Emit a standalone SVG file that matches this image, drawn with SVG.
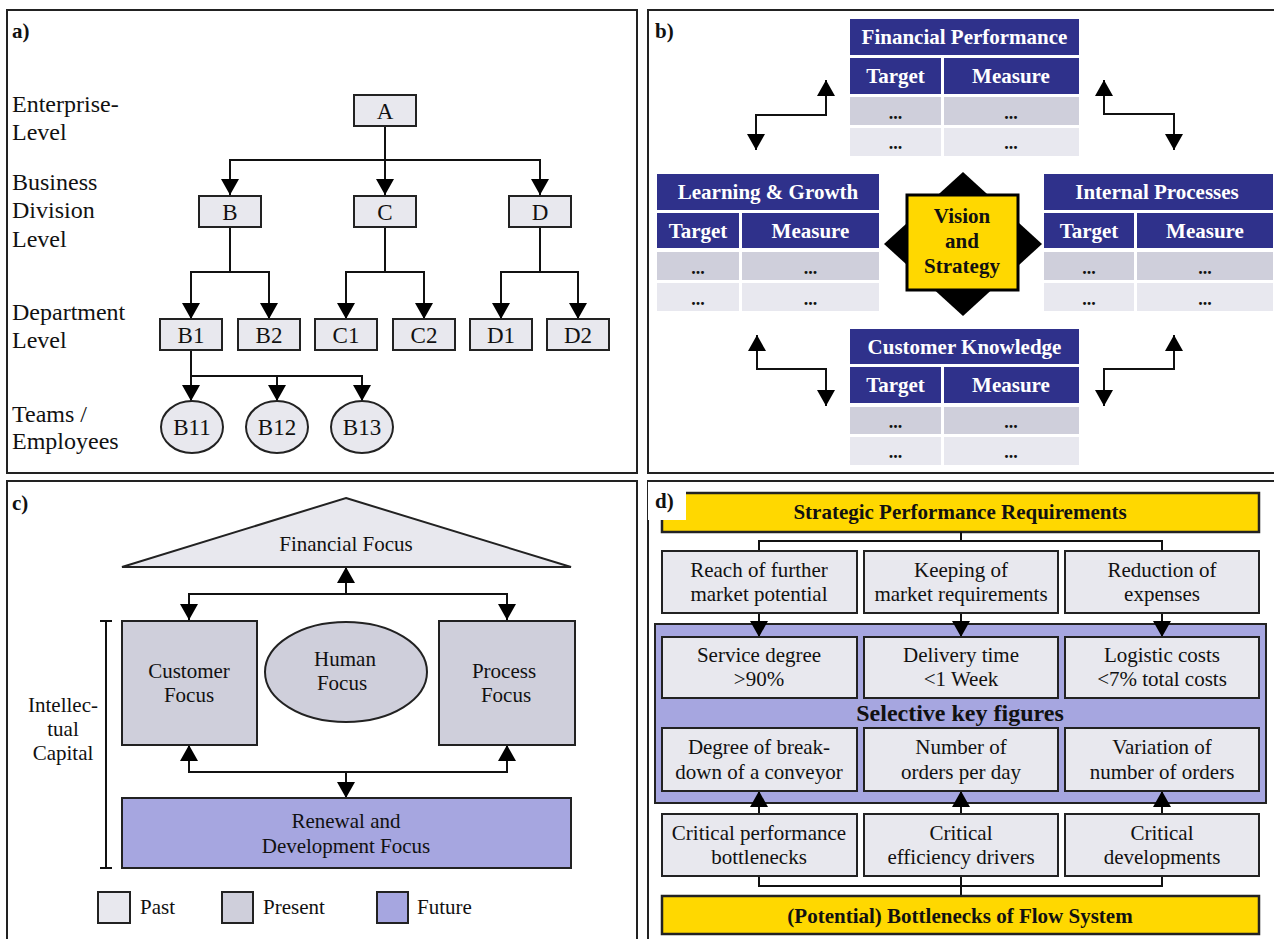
<svg xmlns="http://www.w3.org/2000/svg" width="1274" height="939" viewBox="0 0 1274 939" font-family="'Liberation Serif', 'DejaVu Serif', serif">
<style>
text{font-family:'Liberation Serif','DejaVu Serif',serif;fill:#111}
.lbl{font-size:24px}
.nd{font-size:23px;text-anchor:middle}
.pl{font-size:21px;font-weight:bold}
.frame{fill:none;stroke:#222;stroke-width:2}
.box{fill:#e8e8ee;stroke:#222;stroke-width:2}
.cn{fill:none;stroke:#111;stroke-width:2}
.hd{fill:#2f318b}
.hdt{font-size:21px;font-weight:bold;fill:#fff;text-anchor:middle}
.r1{fill:#cfcfdb}
.r2{fill:#e8e8ef}
.dots{font-size:18px;font-weight:bold;text-anchor:middle}
.t21{font-size:21px;text-anchor:middle}
.b21{font-size:21px;font-weight:bold;text-anchor:middle}
.pres{fill:#cfcfdb;stroke:#222;stroke-width:2}
.fut{fill:#a6a6e0;stroke:#222;stroke-width:2}
.yel{fill:#ffd800;stroke:#222;stroke-width:2.5}
</style>
<defs>
<marker id="ah" viewBox="0 0 16 18" refX="16" refY="9" markerWidth="16" markerHeight="18" markerUnits="userSpaceOnUse" orient="auto-start-reverse">
<path d="M0,0 L16,9 L0,18 z" fill="#000"/>
</marker>
</defs>
<rect width="1274" height="939" fill="#fff"/>

<!-- Panel frames -->
<rect class="frame" x="7" y="10" width="630" height="463"/>
<rect class="frame" x="648" y="10" width="700" height="463"/>
<rect class="frame" x="7" y="481" width="630" height="480"/>
<rect class="frame" x="648" y="481" width="700" height="480"/>

<!-- ===== Panel a ===== -->
<text class="pl" x="12" y="38">a)</text>
<g id="a-labels">
<text class="lbl" x="12" y="112">Enterprise-</text>
<text class="lbl" x="12" y="140">Level</text>
<text class="lbl" x="12" y="190">Business</text>
<text class="lbl" x="12" y="218">Division</text>
<text class="lbl" x="12" y="247">Level</text>
<text class="lbl" x="12" y="320">Department</text>
<text class="lbl" x="12" y="348">Level</text>
<text class="lbl" x="12" y="422">Teams /</text>
<text class="lbl" x="12" y="449">Employees</text>
</g>
<g id="a-connectors">
<path class="cn" d="M385,126 L385,195" marker-end="url(#ah)"/>
<path class="cn" d="M230,195 L230,160 L540,160 L540,195" marker-start="url(#ah)" marker-end="url(#ah)"/>
<path class="cn" d="M230,227 L230,272"/>
<path class="cn" d="M191,319 L191,272 L269,272 L269,319" marker-start="url(#ah)" marker-end="url(#ah)"/>
<path class="cn" d="M385,227 L385,272"/>
<path class="cn" d="M346,319 L346,272 L424,272 L424,319" marker-start="url(#ah)" marker-end="url(#ah)"/>
<path class="cn" d="M540,227 L540,272"/>
<path class="cn" d="M501,319 L501,272 L578,272 L578,319" marker-start="url(#ah)" marker-end="url(#ah)"/>
<path class="cn" d="M191,350 L191,401" marker-end="url(#ah)"/>
<path class="cn" d="M191,376 L362,376 L362,401" marker-end="url(#ah)"/>
<path class="cn" d="M277,376 L277,401" marker-end="url(#ah)"/>
</g>
<g id="nA"><rect class="box" x="354" y="95" width="62" height="31"/><text class="nd" x="385" y="119">A</text></g>
<g id="nB"><rect class="box" x="199" y="196" width="62" height="31"/><text class="nd" x="230" y="220">B</text></g>
<g id="nC"><rect class="box" x="354" y="196" width="62" height="31"/><text class="nd" x="385" y="220">C</text></g>
<g id="nD"><rect class="box" x="509" y="196" width="62" height="31"/><text class="nd" x="540" y="220">D</text></g>
<g id="nB1"><rect class="box" x="160" y="319" width="62" height="31"/><text class="nd" x="191" y="343">B1</text></g>
<g id="nB2"><rect class="box" x="238" y="319" width="62" height="31"/><text class="nd" x="269" y="343">B2</text></g>
<g id="nC1"><rect class="box" x="315" y="319" width="62" height="31"/><text class="nd" x="346" y="343">C1</text></g>
<g id="nC2"><rect class="box" x="393" y="319" width="62" height="31"/><text class="nd" x="424" y="343">C2</text></g>
<g id="nD1"><rect class="box" x="470" y="319" width="62" height="31"/><text class="nd" x="501" y="343">D1</text></g>
<g id="nD2"><rect class="box" x="547" y="319" width="62" height="31"/><text class="nd" x="578" y="343">D2</text></g>
<g id="nB11"><ellipse class="box" cx="192" cy="427" rx="31" ry="26"/><text class="nd" x="192" y="435">B11</text></g>
<g id="nB12"><ellipse class="box" cx="277" cy="427" rx="31" ry="26"/><text class="nd" x="277" y="435">B12</text></g>
<g id="nB13"><ellipse class="box" cx="362" cy="427" rx="31" ry="26"/><text class="nd" x="362" y="435">B13</text></g>

<!-- ===== Panel b ===== -->
<text class="pl" x="655" y="38">b)</text>
<g id="b-connectors">
<path class="cn" d="M826,80 L826,115 L756,115 L756,150" marker-start="url(#ah)" marker-end="url(#ah)"/>
<path class="cn" d="M1104,80 L1104,114 L1174,114 L1174,150" marker-start="url(#ah)" marker-end="url(#ah)"/>
<path class="cn" d="M757,335 L757,369 L826,369 L826,406" marker-start="url(#ah)" marker-end="url(#ah)"/>
<path class="cn" d="M1174,335 L1174,369 L1104,369 L1104,406" marker-start="url(#ah)" marker-end="url(#ah)"/>
</g>
<g id="b-financial">
<rect class="hd" x="850" y="19" width="229" height="36"/>
<text class="hdt" x="964.5" y="44">Financial Performance</text>
<rect class="hd" x="850" y="58" width="91" height="36"/>
<rect class="hd" x="944" y="58" width="135" height="36"/>
<text class="hdt" x="895.5" y="83">Target</text>
<text class="hdt" x="1011" y="83">Measure</text>
<rect class="r1" x="850" y="97" width="91" height="28"/><rect class="r1" x="944" y="97" width="135" height="28"/>
<rect class="r2" x="850" y="128" width="91" height="28"/><rect class="r2" x="944" y="128" width="135" height="28"/>
<text class="dots" x="895.5" y="119">...</text><text class="dots" x="1011" y="119">...</text>
<text class="dots" x="895.5" y="149">...</text><text class="dots" x="1011" y="149">...</text>
</g>
<g id="b-learning">
<rect class="hd" x="657" y="174" width="222" height="36"/>
<text class="hdt" x="768" y="199">Learning &amp; Growth</text>
<rect class="hd" x="657" y="213" width="82" height="35"/>
<rect class="hd" x="742" y="213" width="137" height="35"/>
<text class="hdt" x="698" y="238">Target</text>
<text class="hdt" x="810.5" y="238">Measure</text>
<rect class="r1" x="657" y="252" width="82" height="28"/><rect class="r1" x="742" y="252" width="137" height="28"/>
<rect class="r2" x="657" y="283" width="82" height="28"/><rect class="r2" x="742" y="283" width="137" height="28"/>
<text class="dots" x="698" y="274">...</text><text class="dots" x="810.5" y="274">...</text>
<text class="dots" x="698" y="305">...</text><text class="dots" x="810.5" y="305">...</text>
</g>
<g id="b-internal">
<rect class="hd" x="1044" y="174" width="229" height="36"/>
<text class="hdt" x="1157" y="199">Internal Processes</text>
<rect class="hd" x="1044" y="213" width="90" height="35"/>
<rect class="hd" x="1137" y="213" width="136" height="35"/>
<text class="hdt" x="1089" y="238">Target</text>
<text class="hdt" x="1205" y="238">Measure</text>
<rect class="r1" x="1044" y="252" width="90" height="28"/><rect class="r1" x="1137" y="252" width="136" height="28"/>
<rect class="r2" x="1044" y="283" width="90" height="28"/><rect class="r2" x="1137" y="283" width="136" height="28"/>
<text class="dots" x="1089" y="274">...</text><text class="dots" x="1205" y="274">...</text>
<text class="dots" x="1089" y="305">...</text><text class="dots" x="1205" y="305">...</text>
</g>
<g id="b-customer">
<rect class="hd" x="850" y="329" width="229" height="35"/>
<text class="hdt" x="964.5" y="354">Customer Knowledge</text>
<rect class="hd" x="850" y="367" width="91" height="36"/>
<rect class="hd" x="944" y="367" width="135" height="36"/>
<text class="hdt" x="895.5" y="392">Target</text>
<text class="hdt" x="1011" y="392">Measure</text>
<rect class="r1" x="850" y="407" width="91" height="27"/><rect class="r1" x="944" y="407" width="135" height="27"/>
<rect class="r2" x="850" y="437" width="91" height="28"/><rect class="r2" x="944" y="437" width="135" height="28"/>
<text class="dots" x="895.5" y="428">...</text><text class="dots" x="1011" y="428">...</text>
<text class="dots" x="895.5" y="458">...</text><text class="dots" x="1011" y="458">...</text>
</g>
<g id="b-vision">
<polygon points="963,172 1042,244 963,316 884,244" fill="#000"/>
<rect x="907" y="195" width="111" height="95" fill="#ffd800" stroke="#000" stroke-width="3"/>
<text class="b21" x="962" y="223">Vision</text>
<text class="b21" x="962" y="248">and</text>
<text class="b21" x="962" y="273">Strategy</text>
</g>

<!-- ===== Panel c ===== -->
<text class="pl" x="12" y="510">c)</text>
<g id="c-connectors">
<path class="cn" d="M346,594 L346,567" marker-end="url(#ah)"/>
<path class="cn" d="M189,620 L189,594 L507,594 L507,620" marker-start="url(#ah)" marker-end="url(#ah)"/>
<path class="cn" d="M189,745 L189,772 L507,772 L507,745" marker-start="url(#ah)" marker-end="url(#ah)"/>
<path class="cn" d="M346,772 L346,798" marker-end="url(#ah)"/>
</g>
<g id="c-financial">
<polygon points="346,498 571,567 122,567" fill="#e8e8ee" stroke="#222" stroke-width="2"/>
<text class="t21" x="346" y="551">Financial Focus</text>
</g>
<g id="c-customer">
<rect class="pres" x="122" y="621" width="135" height="124"/>
<text class="t21" x="189" y="678">Customer</text>
<text class="t21" x="189" y="702">Focus</text>
</g>
<g id="c-human">
<ellipse class="pres" cx="346" cy="672" rx="81" ry="50"/>
<text class="t21" x="345" y="666">Human</text>
<text class="t21" x="342" y="690">Focus</text>
</g>
<g id="c-process">
<rect class="pres" x="439" y="621" width="136" height="124"/>
<text class="t21" x="504" y="678">Process</text>
<text class="t21" x="506" y="702">Focus</text>
</g>
<g id="c-renewal">
<rect class="fut" x="122" y="798" width="449" height="70"/>
<text class="t21" x="346" y="828">Renewal and</text>
<text class="t21" x="346" y="853">Development Focus</text>
</g>
<g id="c-intellectual">
<path class="cn" d="M100,621 L112,621 M106,621 L106,868 M100,868 L112,868"/>
<text class="t21" x="63" y="712">Intellec-</text>
<text class="t21" x="63" y="736">tual</text>
<text class="t21" x="63" y="760">Capital</text>
</g>
<g id="c-legend">
<rect x="98" y="892" width="32" height="31" fill="#e8e8ee" stroke="#222" stroke-width="2"/>
<text x="140" y="914" style="font-size:21px">Past</text>
<rect x="222" y="892" width="31" height="31" fill="#cfcfdb" stroke="#222" stroke-width="2"/>
<text x="263" y="914" style="font-size:21px">Present</text>
<rect x="377" y="892" width="31" height="31" fill="#a6a6e0" stroke="#222" stroke-width="2"/>
<text x="417" y="914" style="font-size:21px">Future</text>
</g>

<!-- ===== Panel d ===== -->
<g id="d-keyfigures-bg">
<rect class="fut" x="655" y="624" width="611" height="179"/>
<text x="960" y="721" style="font-size:24px;font-weight:bold;text-anchor:middle">Selective key figures</text>
</g>
<g id="d-top">
<rect class="yel" x="662" y="493" width="597" height="39"/>
<text class="b21" x="960" y="519">Strategic Performance Requirements</text>
</g>
<rect x="648" y="482" width="38" height="38" fill="#fff"/>
<text class="pl" x="655" y="508">d)</text>
<g id="d-connectors">
<path class="cn" d="M961,532 L961,541 M759,551 L759,541 L1162,541 L1162,551"/>
<path class="cn" d="M759,613 L759,637" marker-end="url(#ah)"/>
<path class="cn" d="M961,613 L961,637" marker-end="url(#ah)"/>
<path class="cn" d="M1162,613 L1162,637" marker-end="url(#ah)"/>
<path class="cn" d="M759,814 L759,791" marker-end="url(#ah)"/>
<path class="cn" d="M961,814 L961,791" marker-end="url(#ah)"/>
<path class="cn" d="M1162,814 L1162,791" marker-end="url(#ah)"/>
<path class="cn" d="M759,876 L759,886 L1162,886 L1162,876 M961,876 L961,896"/>
</g>
<g id="d-r1a"><rect class="box" x="662" y="551" width="195" height="62"/><text class="t21" x="759" y="577">Reach of further</text><text class="t21" x="759" y="601">market potential</text></g>
<g id="d-r1b"><rect class="box" x="864" y="551" width="194" height="62"/><text class="t21" x="961" y="577">Keeping of</text><text class="t21" x="961" y="601">market requirements</text></g>
<g id="d-r1c"><rect class="box" x="1065" y="551" width="194" height="62"/><text class="t21" x="1162" y="577">Reduction of</text><text class="t21" x="1162" y="601">expenses</text></g>
<g id="d-r2a"><rect class="box" x="662" y="637" width="195" height="61"/><text class="t21" x="759" y="662">Service degree</text><text class="t21" x="759" y="686">&gt;90%</text></g>
<g id="d-r2b"><rect class="box" x="864" y="637" width="194" height="61"/><text class="t21" x="961" y="662">Delivery time</text><text class="t21" x="961" y="686">&lt;1 Week</text></g>
<g id="d-r2c"><rect class="box" x="1065" y="637" width="194" height="61"/><text class="t21" x="1162" y="662">Logistic costs</text><text class="t21" x="1162" y="686">&lt;7% total costs</text></g>
<g id="d-r3a"><rect class="box" x="662" y="728" width="195" height="63"/><text class="t21" x="759" y="754">Degree of break-</text><text class="t21" x="759" y="779">down of a conveyor</text></g>
<g id="d-r3b"><rect class="box" x="864" y="728" width="194" height="63"/><text class="t21" x="961" y="754">Number of</text><text class="t21" x="961" y="779">orders per day</text></g>
<g id="d-r3c"><rect class="box" x="1065" y="728" width="194" height="63"/><text class="t21" x="1162" y="754">Variation of</text><text class="t21" x="1162" y="779">number of orders</text></g>
<g id="d-r4a"><rect class="box" x="662" y="814" width="195" height="62"/><text class="t21" x="759" y="840">Critical performance</text><text class="t21" x="759" y="864">bottlenecks</text></g>
<g id="d-r4b"><rect class="box" x="864" y="814" width="194" height="62"/><text class="t21" x="961" y="840">Critical</text><text class="t21" x="961" y="864">efficiency drivers</text></g>
<g id="d-r4c"><rect class="box" x="1065" y="814" width="194" height="62"/><text class="t21" x="1162" y="840">Critical</text><text class="t21" x="1162" y="864">developments</text></g>
<g id="d-bottom">
<rect class="yel" x="662" y="896" width="597" height="38"/>
<text class="b21" x="960" y="923">(Potential) Bottlenecks of Flow System</text>
</g>
</svg>
